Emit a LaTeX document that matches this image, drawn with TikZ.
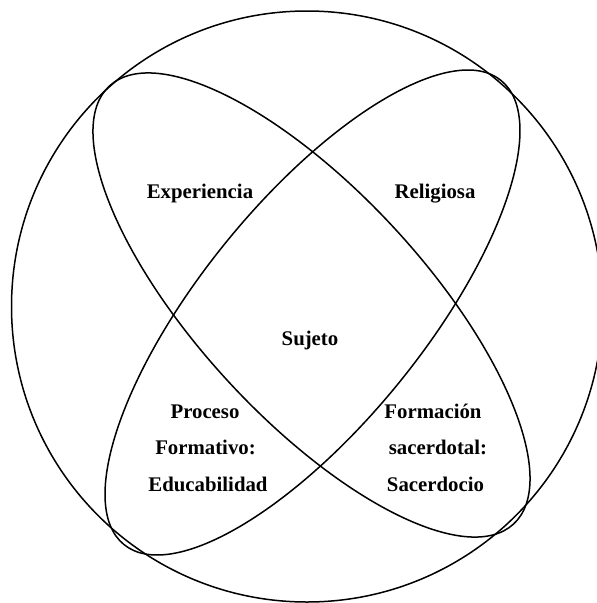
\documentclass[tikz,border=0pt]{standalone}
\usepackage{fontspec}
\setmainfont{Liberation Serif}
\begin{document}
\begin{tikzpicture}[x=1pt,y=-1pt,
  outline/.style={draw=black,line width=1.5pt},
  lbl/.style={anchor=base,inner sep=0pt,font=\fontsize{20.8}{36}\selectfont\bfseries}]
\useasboundingbox (0,0) rectangle (597,603);
% outer circle
\draw[outline] (307,306.5) circle[radius=295.5];
% two crossing ellipses
\draw[outline] (311.5,305) ellipse[x radius=298,y radius=113,rotate=-47.3];
\draw[outline] (312.5,312.5) ellipse[x radius=299,y radius=111.4,rotate=50.9];
% labels
\node[lbl] (exp) at (200,198) {Experiencia};
\node[lbl] (rel) at (435,198) {Religiosa};
\node[lbl] (suj) at (310,345) {Sujeto};
\node[lbl] (pro1) at (205,418) {Proceso};
\node[lbl] (pro2) at (205.5,454) {Formativo:};
\node[lbl] (pro3) at (208,491) {Educabilidad};
\node[lbl] (for1) at (433,418) {Formación};
\node[lbl] (for2) at (438,454) {sacerdotal:};
\node[lbl] (for3) at (435.5,491) {Sacerdocio};
\end{tikzpicture}
\end{document}
